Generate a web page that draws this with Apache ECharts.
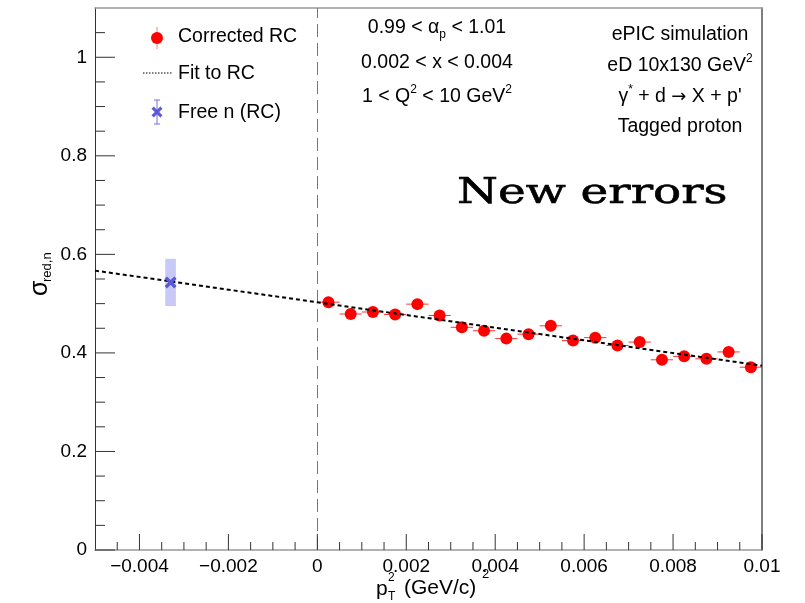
<!DOCTYPE html>
<html>
<head>
<meta charset="utf-8">
<script src="https://cdn.jsdelivr.net/npm/echarts@6/dist/echarts.min.js"></script>
<style>
  html, body { margin: 0; padding: 0; background: #fff; }
  #chart { width: 805px; height: 603px; }
</style>
</head>
<body>
<div id="chart"></div>
<script>
// p_T^2 bin centres (GeV/c)^2 and the corrected reduced cross section
const binCenters = [0.00025, 0.00075, 0.00125, 0.00175, 0.00225, 0.00275, 0.00325, 0.00375, 0.00425, 0.00475,
                    0.00525, 0.00575, 0.00625, 0.00675, 0.00725, 0.00775, 0.00825, 0.00875, 0.00925, 0.00975];
const sigmaRC    = [0.503, 0.479, 0.483, 0.478, 0.499, 0.476, 0.452, 0.445, 0.429, 0.438,
                    0.455, 0.425, 0.431, 0.415, 0.422, 0.386, 0.393, 0.388, 0.402, 0.371];
const binHalfWidth = 0.00025;
const sigmaErr     = [0.006, 0.006, 0.006, 0.006, 0.006, 0.006, 0.006, 0.006, 0.006, 0.006,
                      0.006, 0.006, 0.006, 0.006, 0.006, 0.006, 0.006, 0.006, 0.006, 0.006];

// linear fit end points
const fitLine = [[-0.005, 0.567], [0.01, 0.374]];

// extrapolated free neutron point
const freeN = [[-0.0033, 0.543]];
const freeNErrX = 0.00012;
const freeNErrY = 0.048;

// axis ranges and tick values
const xRange = [-0.005, 0.01];
const yRange = [0, 1.1];
const xMajorTicks = [-0.004, -0.002, 0, 0.002, 0.004, 0.006, 0.008, 0.01];
const xMinorTicks = [-0.0045, -0.0035, -0.003, -0.0025, -0.0015, -0.001, -0.0005, 0.0005, 0.001, 0.0015,
                     0.0025, 0.003, 0.0035, 0.0045, 0.005, 0.0055, 0.0065, 0.007, 0.0075, 0.0085, 0.009, 0.0095];
const yMajorTicks = [0, 0.2, 0.4, 0.6, 0.8, 1.0];
const yMinorTicks = [0.05, 0.1, 0.15, 0.25, 0.3, 0.35, 0.45, 0.5, 0.55, 0.65, 0.7, 0.75, 0.85, 0.9, 0.95, 1.05];

const FONT = 'Liberation Sans';
const CROSS = [[0, 2], [2, 0], [5, 3], [8, 0], [10, 2], [7, 5], [10, 8], [8, 10], [5, 7], [2, 10], [0, 8], [3, 5]];
const chart = echarts.init(document.getElementById('chart'), null, { renderer: 'canvas' });

function xTickRender(len) {
  return function (params, api) {
    const p = api.coord([api.value(0), yRange[0]]);
    return { type: 'line', shape: { x1: p[0], y1: p[1], x2: p[0], y2: p[1] - len },
             style: { stroke: '#333', lineWidth: 1 } };
  };
}
function yTickRender(len) {
  return function (params, api) {
    const p = api.coord([xRange[0], api.value(0)]);
    return { type: 'line', shape: { x1: p[0], y1: p[1], x2: p[0] + len, y2: p[1] },
             style: { stroke: '#333', lineWidth: 1 } };
  };
}
function crossPoints(cx, cy, s) {
  return CROSS.map(p => [cx + (p[0] - 5) * s, cy + (p[1] - 5) * s]);
}

// rich-text styles for labels with sub/superscripts
const TXT = 19.5;
const richStyles = {
  n:   { fontFamily: FONT, fontSize: TXT, lineHeight: 26, verticalAlign: 'middle', color: '#000' },
  sub: { fontFamily: FONT, fontSize: 12, lineHeight: 26, verticalAlign: 'bottom', color: '#000' },
  sup: { fontFamily: FONT, fontSize: 12, lineHeight: 26, verticalAlign: 'top', color: '#000' },
  arr: { fontFamily: 'DejaVu Sans', fontSize: 18, lineHeight: 26, verticalAlign: 'middle', color: '#000' }
};
function richText(x, y, text) {
  return { type: 'text', x: x, y: y, z: 11, style: {
    text: text, textAlign: 'center', textVerticalAlign: 'middle', rich: richStyles } };
}

const option = {
  animation: false,
  backgroundColor: '#fff',
  grid: { left: 95, right: 43, top: 8, bottom: 53 },
  xAxis: [{
    type: 'value', min: xRange[0], max: xRange[1], interval: 0.001,
    axisLine: { show: true, onZero: false, lineStyle: { color: '#999', width: 1.5 } },
    axisTick: { show: false }, splitLine: { show: false },
    axisLabel: {
      fontFamily: FONT, fontSize: 19, color: '#000', margin: 7, showMinLabel: true, showMaxLabel: true,
      formatter: function (v) {
        const k = Math.round(v * 1000);
        if (Math.abs(v * 1000 - k) > 1e-6 || k % 2 !== 0) return '';
        if (k === 0) return '0';
        return (k < 0 ? '\u2212' : '') + (Math.abs(k) / 1000).toString();
      }
    }
  }, {
    type: 'value', position: 'top', min: xRange[0], max: xRange[1],
    axisLine: { show: true, onZero: false, lineStyle: { color: '#999', width: 1.5 } },
    axisTick: { show: false }, axisLabel: { show: false }, splitLine: { show: false }
  }],
  yAxis: [{
    type: 'value', min: yRange[0], max: yRange[1], interval: 0.2,
    axisLine: { show: true, onZero: false, lineStyle: { color: '#333', width: 1 } },
    axisTick: { show: false }, splitLine: { show: false },
    axisLabel: {
      fontFamily: FONT, fontSize: 19, color: '#000', margin: 8,
      formatter: function (v) {
        const k = Math.round(v * 10);
        if (Math.abs(v * 10 - k) > 1e-6 || k % 2 !== 0) return '';
        if (k === 0) return '0';
        if (k === 10) return '1';
        return (k / 10).toString();
      }
    }
  }, {
    type: 'value', position: 'right', min: yRange[0], max: yRange[1],
    axisLine: { show: true, onZero: false, lineStyle: { color: '#555', width: 1.5 } },
    axisTick: { show: false }, axisLabel: { show: false }, splitLine: { show: false }
  }],
  series: [
    // tick marks
    { type: 'custom', data: xMajorTicks.map(v => [v]), renderItem: xTickRender(16), clip: false, silent: true, z: 5 },
    { type: 'custom', data: xMinorTicks.map(v => [v]), renderItem: xTickRender(8), clip: false, silent: true, z: 5 },
    { type: 'custom', data: yMajorTicks.map(v => [v]), renderItem: yTickRender(20), clip: false, silent: true, z: 5 },
    { type: 'custom', data: yMinorTicks.map(v => [v]), renderItem: yTickRender(10), clip: false, silent: true, z: 5 },
    // vertical reference line at p_T^2 = 0
    {
      type: 'line', data: [], silent: true, z: 2,
      markLine: {
        symbol: 'none', silent: true, label: { show: false },
        lineStyle: { color: '#777', width: 1, type: [13, 6] },
        data: [{ xAxis: 0 }]
      }
    },
    // free neutron uncertainty band
    {
      type: 'custom', z: 3, silent: true,
      data: freeN.map(p => [p[0], p[1], freeNErrX, freeNErrY]),
      renderItem: function (params, api) {
        const x = api.value(0), y = api.value(1), ex = api.value(2), ey = api.value(3);
        const a = api.coord([x - ex, y + ey]), b = api.coord([x + ex, y - ey]);
        return { type: 'rect', shape: { x: a[0], y: a[1], width: b[0] - a[0], height: b[1] - a[1] },
                 style: { fill: '#c9c9f7' } };
      }
    },
    // corrected RC error bars
    {
      type: 'custom', z: 4, silent: true,
      data: binCenters.map((x, i) => [x, sigmaRC[i], binHalfWidth, sigmaErr[i]]),
      renderItem: function (params, api) {
        const x = api.value(0), y = api.value(1), ex = api.value(2), ey = api.value(3);
        const l = api.coord([x - ex, y]), r = api.coord([x + ex, y]);
        const t = api.coord([x, y + ey]), b = api.coord([x, y - ey]);
        return { type: 'group', children: [
          { type: 'line', shape: { x1: l[0], y1: l[1], x2: r[0], y2: r[1] }, style: { stroke: '#ff3030', lineWidth: 1 } },
          { type: 'line', shape: { x1: t[0], y1: t[1], x2: b[0], y2: b[1] }, style: { stroke: '#ff3030', lineWidth: 1 } }
        ] };
      }
    },
    // corrected RC points
    {
      type: 'scatter', z: 6, symbol: 'circle', symbolSize: 12,
      itemStyle: { color: '#ff0000', opacity: 1 },
      data: binCenters.map((x, i) => [x, sigmaRC[i]])
    },
    // linear fit
    {
      type: 'line', z: 7, showSymbol: false, symbol: 'none', silent: true,
      lineStyle: { color: '#000', width: 2, type: [4, 3] },
      data: fitLine
    },
    // free neutron marker
    {
      type: 'scatter', z: 8,
      symbol: 'path://M0,2 L2,0 L5,3 L8,0 L10,2 L7,5 L10,8 L8,10 L5,7 L2,10 L0,8 L3,5 Z',
      symbolSize: 12, itemStyle: { color: '#5a5ad8', opacity: 1 },
      data: freeN
    }
  ],
  graphic: [
    // legend
    { type: 'line', shape: { x1: 157, y1: 27, x2: 157, y2: 49 }, style: { stroke: '#ff8080', lineWidth: 1 }, z: 10 },
    { type: 'circle', shape: { cx: 157, cy: 38, r: 6 }, style: { fill: '#ff0000' }, z: 11 },
    { type: 'text', x: 178, y: 37, z: 11, style: { text: 'Corrected RC', font: '19.5px "Liberation Sans"', fill: '#000', textVerticalAlign: 'middle' } },
    { type: 'line', shape: { x1: 143, y1: 73, x2: 172, y2: 73 }, style: { stroke: '#000', lineWidth: 1, lineDash: [1.5, 1.5] }, z: 10 },
    { type: 'text', x: 178, y: 74, z: 11, style: { text: 'Fit to RC', font: '19.5px "Liberation Sans"', fill: '#000', textVerticalAlign: 'middle' } },
    { type: 'line', shape: { x1: 157, y1: 100, x2: 157, y2: 124 }, style: { stroke: '#7070e0', lineWidth: 1 }, z: 10 },
    { type: 'line', shape: { x1: 154, y1: 100, x2: 160, y2: 100 }, style: { stroke: '#7070e0', lineWidth: 1 }, z: 10 },
    { type: 'line', shape: { x1: 154, y1: 124, x2: 160, y2: 124 }, style: { stroke: '#7070e0', lineWidth: 1 }, z: 10 },
    { type: 'polygon', z: 11, shape: { points: crossPoints(157, 112, 1.1) }, style: { fill: '#5a5ad8' } },
    { type: 'text', x: 178, y: 113, z: 11, style: { text: 'Free n (RC)', font: '19.5px "Liberation Sans"', fill: '#000', textVerticalAlign: 'middle' } },

    // kinematic cuts
    richText(437, 28, '{n|0.99 < α}{sub|p}{n| < 1.01}'),
    richText(437, 63, '{n|0.002 < x < 0.004}'),
    richText(437, 97, '{n|1 < Q}{sup|2}{n| < 10 GeV}{sup|2}'),

    // simulation description
    richText(680, 35, '{n|ePIC simulation}'),
    richText(680, 66, '{n|eD 10x130 GeV}{sup|2}'),
    richText(680, 97, '{n|γ}{sup|*}{n| + d }{arr|→}{n| X + p\'}'),
    richText(680, 127, '{n|Tagged proton}'),

    // annotation
    { type: 'text', x: 457, y: 194, scaleX: 1.3, z: 11, style: {
        text: 'New errors', textVerticalAlign: 'middle', font: '36px "DejaVu Serif"', fill: '#000',
        stroke: '#000', lineWidth: 0.6 } },

    // x axis title: p_T^2 (GeV/c)^2
    { type: 'text', x: 376, y: 589, z: 11, style: { text: 'p', font: '21px "Liberation Sans"', fill: '#000', textVerticalAlign: 'middle' } },
    { type: 'text', x: 388, y: 597, z: 11, style: { text: 'T', font: '12px "Liberation Sans"', fill: '#000', textVerticalAlign: 'middle' } },
    { type: 'text', x: 388, y: 578, z: 11, style: { text: '2', font: '12px "Liberation Sans"', fill: '#000', textVerticalAlign: 'middle' } },
    { type: 'text', x: 404, y: 588, z: 11, style: { text: '(GeV/c)', font: '21px "Liberation Sans"', fill: '#000', textVerticalAlign: 'middle' } },
    { type: 'text', x: 482, y: 574, z: 11, style: { text: '2', font: '13px "Liberation Sans"', fill: '#000', textVerticalAlign: 'middle' } },

    // y axis title: sigma_red,n
    { type: 'group', x: 40, y: 282, rotation: Math.PI / 2, z: 11, children: [
      { type: 'text', x: -14, y: 0, style: { text: 'σ', font: '25px "Liberation Sans"', fill: '#000', textVerticalAlign: 'middle' } },
      { type: 'text', x: 0, y: 7, style: { text: 'red,n', font: '13px "Liberation Sans"', fill: '#000', textVerticalAlign: 'middle' } }
    ] }
  ]
};

chart.setOption(option);
</script>
</body>
</html>
